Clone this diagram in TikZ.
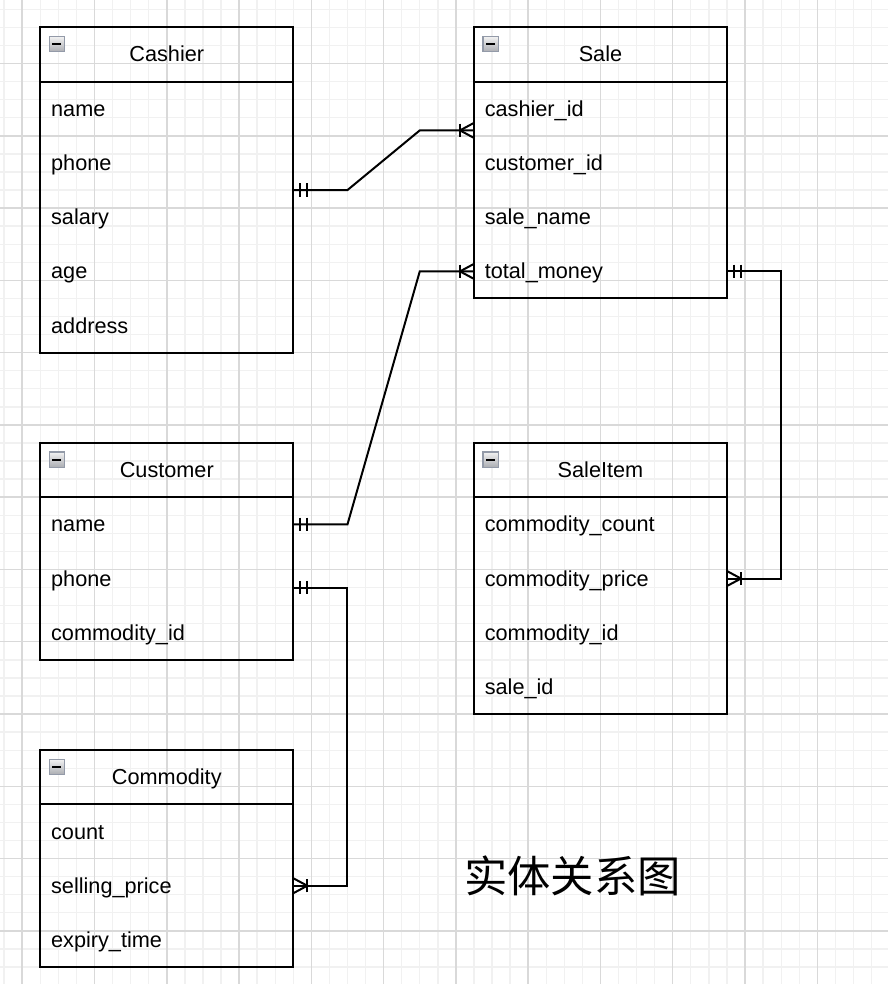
\documentclass[tikz,border=0pt]{standalone}
\usepackage{fontspec}
\setmainfont{Liberation Sans}
\newfontfamily\cjkfont{Noto Sans CJK SC}
\usepackage{tikz}
\usetikzlibrary{
  positioning,
  calc,
  decorations.markings
}
\definecolor{gridminor}{HTML}{F1F1F1}
\definecolor{gridmajor}{HTML}{D9D9D9}
\definecolor{foldlight}{HTML}{F2F2F2}
\definecolor{folddark}{HTML}{ABADB2}
\definecolor{foldedge}{HTML}{939AA8}

\begin{document}
\begin{tikzpicture}[x=1.355pt, y=-1.355pt, line width=1.5pt,
    head/.style={rectangle, draw, outer sep=0pt, inner sep=0pt, minimum width=189.7pt, minimum height=40.66pt,
      text height=14.7pt, text depth=3.45pt, font=\fontsize{16.26}{19.5}\selectfont},
    attr/.style={rectangle, outer sep=0pt, inner xsep=8.13pt, inner ysep=0pt, text width=173.44pt, align=left,
      minimum height=40.66pt, text height=14.7pt, text depth=3.45pt, font=\fontsize{16.26}{19.5}\selectfont},
    fold/.style={rectangle, draw=foldedge, line width=0.8pt, top color=foldlight, bottom color=folddark,
      minimum size=11.4pt, inner sep=0pt, outer sep=0pt, anchor=north west,
      path picture={\draw[black, line width=1.5pt] ([xshift=2.3pt]path picture bounding box.west) -- ([xshift=-2.3pt]path picture bounding box.east);}},
    erone/.style={postaction={decorate, decoration={markings,
      mark=at position 5.25pt with {\draw (0,-3.7) -- (0,3.7);},
      mark=at position 10.5pt with {\draw (0,-3.7) -- (0,3.7);}}}},
    ermany/.style={postaction={decorate, decoration={markings,
      mark=at position -10.5pt with {\draw (0,-3.7) -- (0,3.7); \draw (7.75,-4.15) -- (0,0) -- (7.75,4.15);}}}},
    rel/.style={draw, erone, ermany},
    title/.style={inner sep=0pt, text height=28.6pt, text depth=3.9pt, font=\cjkfont\fontsize{32.5}{39}\selectfont}]
\path[use as bounding box, fill=white] (-2.3,-5.15) rectangle (489.1,539.4);
\foreach \u in {0,10,...,480}
  \draw[gridminor, line width=1pt] (\u,-5.15) -- (\u,539.4);
\foreach \v in {0,10,...,530}
  \draw[gridminor, line width=1pt] (-2.3,\v) -- (489.1,\v);
\foreach \u in {10,50,...,450}
  \draw[gridmajor, line width=1.1pt] (\u,-5.15) -- (\u,539.4);
\foreach \v in {30,70,...,510}
  \draw[gridmajor, line width=1.1pt] (-2.3,\v) -- (489.1,\v);

\node[head] (cashier) at (90,25) {Cashier};
\node[attr, below=0pt of cashier] (cashier-name) {name};
\node[attr, below=0pt of cashier-name] (cashier-phone) {phone};
\node[attr, below=0pt of cashier-phone] (cashier-salary) {salary};
\node[attr, below=0pt of cashier-salary] (cashier-age) {age};
\node[attr, below=0pt of cashier-age] (cashier-address) {address};

\node[head] (sale) at (330,25) {Sale};
\node[attr, below=0pt of sale] (sale-cashier) {cashier\_id};
\node[attr, below=0pt of sale-cashier] (sale-customer) {customer\_id};
\node[attr, below=0pt of sale-customer] (sale-name) {sale\_name};
\node[attr, below=0pt of sale-name] (sale-total) {total\_money};

\node[head] (customer) at (90,255) {Customer};
\node[attr, below=0pt of customer] (customer-name) {name};
\node[attr, below=0pt of customer-name] (customer-phone) {phone};
\node[attr, below=0pt of customer-phone] (customer-commodity) {commodity\_id};

\node[head] (item) at (330,255) {SaleItem};
\node[attr, below=0pt of item] (item-count) {commodity\_count};
\node[attr, below=0pt of item-count] (item-price) {commodity\_price};
\node[attr, below=0pt of item-price] (item-commodity) {commodity\_id};
\node[attr, below=0pt of item-commodity] (item-sale) {sale\_id};

\node[head] (commodity) at (90,425) {Commodity};
\node[attr, below=0pt of commodity] (commodity-count) {count};
\node[attr, below=0pt of commodity-count] (commodity-price) {selling\_price};
\node[attr, below=0pt of commodity-price] (commodity-expiry) {expiry\_time};

\foreach \ent/\last in {cashier/address, sale/total, customer/commodity, item/sale, commodity/expiry} {
  \draw (\ent.north west) rectangle (\ent-\last.south east);
  \node[fold] (\ent-fold) at ([shift={(5,5)}]\ent.north west) {};
}

\coordinate (sale-in) at ($(sale-cashier.south west)+(0,-3)$);
\coordinate (customer-out) at ($(customer-phone.east)+(0,5)$);
\draw[rel] (cashier-phone.south east) -- ++(30,0) -- ($(sale-in)+(-30,0)$) -- (sale-in);
\draw[rel] (customer-name.east) -- ++(30,0) -- ($(sale-total.west)+(-30,0)$) -- (sale-total.west);
\draw[rel] (sale-total.east) -- ++(30,0) |- (item-price.east);
\draw[rel] (customer-out) -- ++(30,0) |- (commodity-price.east);

\node[title] (caption) at (314.5,479.6) {实体关系图};
\end{tikzpicture}
\end{document}
